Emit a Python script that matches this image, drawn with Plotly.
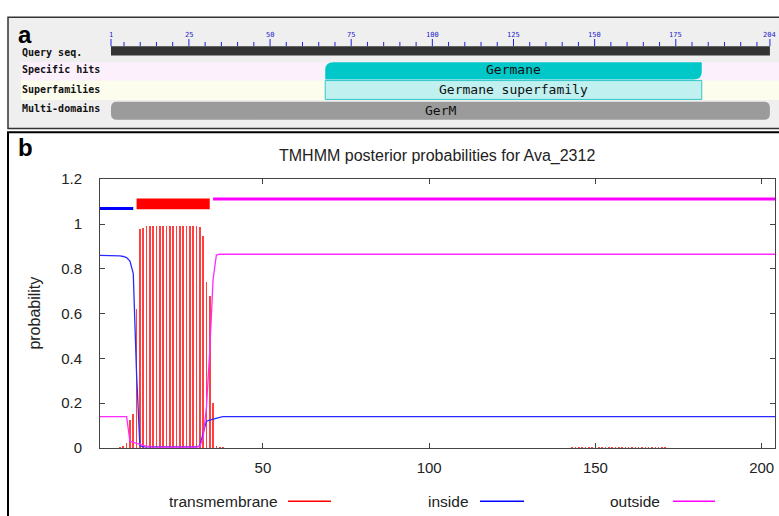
import plotly.graph_objects as go

W, H = 779, 516
def px(x): return x / W
def py(y): return 1 - y / H

# ---------------- data ----------------
seq_len = 204
residues = list(range(1, seq_len + 1))

# TMHMM posterior probabilities
inside_prob = ([0.86] * 6 + [0.858, 0.855, 0.85, 0.835, 0.78, 0.33, 0.01]
               + [0.005] * 17 + [0.01, 0.07, 0.12, 0.125, 0.13, 0.133, 0.137]
               + [0.14] * 167)
outside_prob = ([0.14] * 9 + [0.03, 0.025, 0.02, 0.017, 0.012, 0.008, 0.005]
                + [0.004] * 14 + [0.008, 0.045, 0.18, 0.43, 0.75, 0.862]
                + [0.865] * 168)
tm_prob = ([0] * 6 + [0.005, 0.01, 0.02, 0.125, 0.15, 0.62, 0.975, 0.98]
           + [0.99] * 16 + [0.985, 0.945, 0.74, 0.68, 0.2, 0.01, 0.005, 0.003]
           + [0] * 104 + [0.004] * 29 + [0] * 33)

# predicted topology
topo_start = [1, 12, 35]
topo_end = [11, 34, 204]
topo_class = ["inside", "TMhelix", "outside"]

x_ticks = [50, 100, 150, 200]
y_ticks = [0, 0.2, 0.4, 0.6, 0.8, 1.0, 1.2]
legend_names = ["transmembrane", "inside", "outside"]

# CDD panel
ruler_major = [1, 25, 50, 75, 100, 125, 150, 175, 204]
ruler_minor = [5, 10, 15, 20, 30, 35, 40, 45, 55, 60, 65, 70, 80, 85, 90, 95,
               105, 110, 115, 120, 130, 135, 140, 145, 155, 160, 165, 170,
               180, 185, 190, 195, 200]
row_labels = ["Query seq.", "Specific hits", "Superfamilies", "Multi-domains"]
specific_hit = ("Germane", 67, 183)
superfamily_hit = ("Germane superfamily", 67, 183)
multi_domain = ("GerM", 1, 204)

# ---------------- styles ----------------
SANS = "Liberation Sans, Arial, Helvetica, sans-serif"
MONO = "DejaVu Sans Mono, monospace"
RED, BLUE, MAG = "#ff0000", "#0000ff", "#ff00ff"
colors = {"transmembrane": RED, "inside": BLUE, "outside": MAG}

fig = go.Figure()

# ---- panel b traces ----
fig.add_trace(go.Bar(x=residues, y=tm_prob, width=0.48,
                     marker=dict(color="rgba(255,30,30,0.85)", line=dict(width=0)),
                     xaxis="x", yaxis="y", showlegend=False, hoverinfo="skip"))
fig.add_trace(go.Scatter(x=residues, y=inside_prob, mode="lines",
                         line=dict(color="#2a2aff", width=1.3),
                         xaxis="x", yaxis="y", showlegend=False))
fig.add_trace(go.Scatter(x=residues, y=outside_prob, mode="lines",
                         line=dict(color="#ff2aff", width=1.3),
                         xaxis="x", yaxis="y", showlegend=False))

shapes = []
# panel backgrounds / borders
shapes.append(dict(type="rect", xref="paper", yref="paper",
                   x0=px(8), x1=px(800), y0=py(123.5), y1=py(8.5),
                   fillcolor="#efefef", line=dict(color="#333", width=1.5), layer="below"))
shapes.append(dict(type="rect", xref="paper", yref="paper",
                   x0=px(8), x1=px(800), y0=py(540), y1=py(127.5),
                   fillcolor="white", line=dict(color="#000", width=2), layer="below"))

# topology bars
for s, e, c in zip(topo_start, topo_end, topo_class):
    if c == "TMhelix":
        shapes.append(dict(type="rect", xref="x", yref="y", x0=s, x1=e,
                           y0=1.066, y1=1.114, fillcolor=RED, line=dict(width=0)))
    else:
        lvl = 1.069 if c == "inside" else 1.112
        fig.add_trace(go.Scatter(x=[s, e], y=[lvl, lvl], mode="lines",
                                 line=dict(color=colors[c], width=3),
                                 xaxis="x", yaxis="y", showlegend=False))

# ---- panel a (CDD graphic) ----
shapes.append(dict(type="rect", xref="paper", yref="y2", x0=px(21), x1=1.02,
                   y0=55, y1=74, fillcolor="#fdf0fd", line=dict(width=0), layer="below"))
shapes.append(dict(type="rect", xref="paper", yref="y2", x0=px(21), x1=1.02,
                   y0=74, y1=94, fillcolor="#fdfdee", line=dict(width=0), layer="below"))

tx, ty = [], []
for v in ruler_major:
    tx += [v, v, None]; ty += [31, 38.5, None]
for v in ruler_minor:
    tx += [v, v, None]; ty += [34, 38.5, None]
fig.add_trace(go.Scatter(x=tx, y=ty, mode="lines", line=dict(color="#2222dd", width=1),
                         xaxis="x2", yaxis="y2", showlegend=False, hoverinfo="skip"))

shapes.append(dict(type="rect", xref="x2", yref="y2", x0=1, x1=seq_len,
                   y0=38.5, y1=48, fillcolor="#333333", line=dict(width=0)))

def rpath(x0, x1, y0, y1, rtl, rtr, rbr, rbl, kx=1 / 3.246):
    p = f"M {x0 + rtl * kx},{y0} L {x1 - rtr * kx},{y0} "
    p += f"Q {x1},{y0} {x1},{y0 + rtr} " if rtr else ""
    p += f"L {x1},{y1 - rbr} "
    p += f"Q {x1},{y1} {x1 - rbr * kx},{y1} " if rbr else ""
    p += f"L {x0 + rbl * kx},{y1} "
    p += f"Q {x0},{y1} {x0},{y1 - rbl} " if rbl else ""
    p += f"L {x0},{y0 + rtl} "
    p += f"Q {x0},{y0} {x0 + rtl * kx},{y0} " if rtl else ""
    return p + "Z"

name, s, e = specific_hit
shapes.append(dict(type="path", xref="x2", yref="y2",
                   path=rpath(s, e, 55, 73, 8, 1, 8, 1),
                   fillcolor="#00c8c8", line=dict(width=0)))
name2, s2, e2 = superfamily_hit
shapes.append(dict(type="rect", xref="x2", yref="y2", x0=s2, x1=e2, y0=74, y1=93.5,
                   fillcolor="#c0f0f0", line=dict(color="#30c8c8", width=1)))
name3, s3, e3 = multi_domain
shapes.append(dict(type="path", xref="x2", yref="y2",
                   path=rpath(s3, e3, 96, 114.5, 6, 6, 6, 6),
                   fillcolor="#9b9b9b", line=dict(width=0)))

# legend sample lines
leg_line_x = [(288, 331), (480, 524), (673, 715)]
for (a, b), n in zip(leg_line_x, legend_names):
    shapes.append(dict(type="line", xref="paper", yref="paper", x0=px(a), x1=px(b),
                       y0=py(509), y1=py(509), line=dict(color=colors[n], width=1.3)))

ann = []
for v in ruler_major:
    ann.append(dict(x=v, y=27, xref="x2", yref="y2", text=str(v), showarrow=False,
                    font=dict(family=MONO, size=7, color="#2222cc"), xanchor="center", yanchor="middle"))
row_y = [44.5, 62.5, 83, 103]
for lab, yy in zip(row_labels, row_y):
    ann.append(dict(x=px(20), y=yy, xref="paper", yref="y2", text=f"<b>{lab}</b>", showarrow=False,
                    font=dict(family=MONO, size=10, color="#111"), xanchor="left", yanchor="middle"))
ann.append(dict(x=(s + e) / 2, y=63, xref="x2", yref="y2", text=name, showarrow=False,
                font=dict(family=MONO, size=13, color="#111"), xanchor="center", yanchor="middle"))
ann.append(dict(x=(s2 + e2) / 2, y=83.5, xref="x2", yref="y2", text=name2, showarrow=False,
                font=dict(family=MONO, size=13, color="#111"), xanchor="center", yanchor="middle"))
ann.append(dict(x=(s3 + e3) / 2, y=104.5, xref="x2", yref="y2", text=name3, showarrow=False,
                font=dict(family=MONO, size=13, color="#111"), xanchor="center", yanchor="middle"))
ann.append(dict(x=px(16), y=py(26), xref="paper", yref="paper", text="<b>a</b>", showarrow=False,
                font=dict(family=SANS, size=24, color="#000"), xanchor="left", yanchor="middle"))
ann.append(dict(x=px(16), y=py(143), xref="paper", yref="paper", text="<b>b</b>", showarrow=False,
                font=dict(family=SANS, size=24, color="#000"), xanchor="left", yanchor="middle"))
ann.append(dict(x=px(437), y=py(152), xref="paper", yref="paper",
                text="TMHMM posterior probabilities for Ava_2312", showarrow=False,
                font=dict(family=SANS, size=16, color="#222"), xanchor="center", yanchor="middle"))
ann.append(dict(x=px(35), y=py(315), xref="paper", yref="paper", text="probability",
                showarrow=False, textangle=-90,
                font=dict(family=SANS, size=16, color="#222"), xanchor="center", yanchor="middle"))
leg_text_x = [280, 471, 662]
for xx, n in zip(leg_text_x, legend_names):
    ann.append(dict(x=px(xx), y=py(509), xref="paper", yref="paper", text=n, showarrow=False,
                    font=dict(family=SANS, size=15.5, color="#222"), xanchor="right", yanchor="middle"))

axfont = dict(family=SANS, size=15, color="#222")
fig.update_layout(
    width=W, height=H, autosize=False,
    margin=dict(l=0, r=0, t=0, b=0),
    paper_bgcolor="white", plot_bgcolor="rgba(0,0,0,0)",
    showlegend=False, bargap=0,
    xaxis=dict(domain=[px(100), px(775)], range=[1, 204], tickvals=x_ticks,
               ticks="inside", ticklen=5, tickcolor="#444", showline=True,
               linecolor="#444", linewidth=1, mirror="ticks", showgrid=False,
               zeroline=False, tickfont=axfont, anchor="y", ticklabelstandoff=6),
    yaxis=dict(domain=[py(454), py(176)], range=[0, 1.2], tickvals=y_ticks,
               ticks="inside", ticklen=5, tickcolor="#444", showline=True,
               linecolor="#444", linewidth=1, mirror="ticks", showgrid=False,
               zeroline=False, tickfont=axfont, anchor="x", ticklabelstandoff=14),
    xaxis2=dict(domain=[0, 1], range=[-33.2, 206.8], visible=False, anchor="y2"),
    yaxis2=dict(domain=[0, 1], range=[516, 0], visible=False, anchor="x2"),
    shapes=shapes, annotations=ann,
)

fig.write_html("out.html")
